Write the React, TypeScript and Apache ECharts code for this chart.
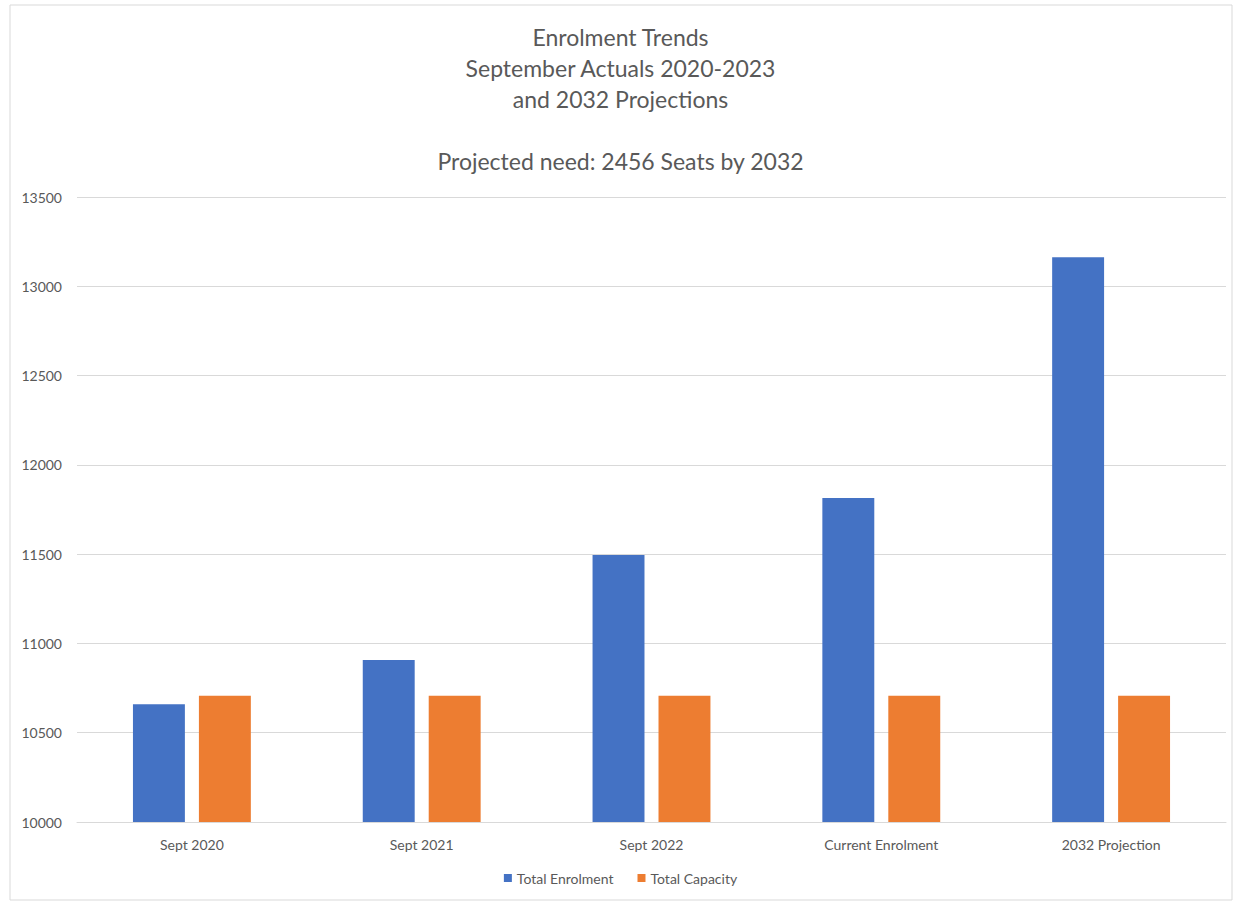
import React, { useEffect, useRef } from "react";
import * as echarts from "echarts";

const categories = ["Sept 2020", "Sept 2021", "Sept 2022", "Current Enrolment", "2032 Projection"];
const totalEnrolment = [10660, 10907, 11495, 11814, 13163];
const totalCapacity = [10707, 10707, 10707, 10707, 10707];
const seriesNames = ["Total Enrolment", "Total Capacity"];
const titleLines = [
  "Enrolment Trends",
  "September Actuals 2020-2023",
  "and 2032 Projections",
  "",
  "Projected need: 2456 Seats by 2032",
];

export default function App() {
  const ref = useRef<HTMLDivElement>(null);
  useEffect(() => {
    if (!ref.current) return;
    const chart = echarts.init(ref.current, undefined, { renderer: "svg" });
    const font = "Lato, 'Open Sans', sans-serif";
    chart.setOption({
      animation: false,
      backgroundColor: "#ffffff",
      textStyle: { fontFamily: font },
      title: {
        text: titleLines.join("\n"),
        left: "center",
        top: 16,
        textStyle: {
          fontFamily: font,
          fontSize: 23,
          fontWeight: "normal",
          color: "#595959",
          lineHeight: 31,
        },
      },
      graphic: [
        {
          type: "rect",
          shape: { x: 10, y: 5, width: 1222, height: 895 },
          style: { fill: "none", stroke: "#d9d9d9", lineWidth: 1 },
          silent: true,
        },
      ],
      legend: {
        bottom: 13,
        left: "center",
        itemWidth: 8,
        itemHeight: 8,
        itemGap: 24,
        icon: "rect",
        textStyle: { fontFamily: font, fontSize: 14, color: "#595959" },
        data: seriesNames,
      },
      grid: { left: 77, right: 15, top: 197, bottom: 81 },
      xAxis: {
        type: "category",
        data: categories,
        axisLine: { show: true, lineStyle: { color: "#d9d9d9" } },
        axisTick: { show: false },
        axisLabel: { color: "#595959", fontSize: 14, margin: 15, fontFamily: font },
      },
      yAxis: {
        type: "value",
        min: 10000,
        max: 13500,
        interval: 500,
        axisLine: { show: false },
        axisTick: { show: false },
        splitLine: { lineStyle: { color: "#d9d9d9" } },
        axisLabel: {
          color: "#595959",
          fontSize: 14,
          margin: 15,
          fontFamily: font,
          formatter: (v: number) => String(v),
        },
      },
      series: [
        {
          name: seriesNames[0],
          type: "bar",
          data: totalEnrolment,
          barWidth: "22.6%",
          barGap: "27%",
          itemStyle: { color: "#4472C4" },
        },
        {
          name: seriesNames[1],
          type: "bar",
          data: totalCapacity,
          barWidth: "22.6%",
          itemStyle: { color: "#ED7D31" },
        },
      ],
    });
    return () => chart.dispose();
  }, []);
  return (
    <div
      ref={ref}
      style={{ position: "fixed", left: 0, top: 0, width: 1241, height: 903 }}
    />
  );
}
